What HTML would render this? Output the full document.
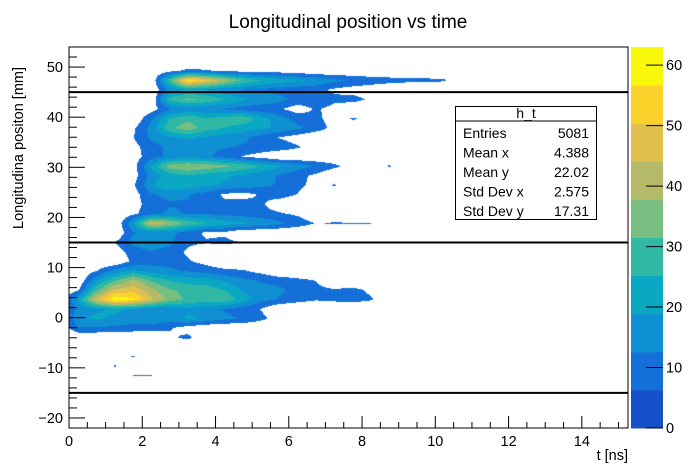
<!DOCTYPE html>
<html><head><meta charset="utf-8"><style>
html,body{margin:0;padding:0;background:#fff;}
#wrap{position:relative;width:698px;height:476px;overflow:hidden;font-family:"Liberation Sans",Arial,sans-serif;}
#plotcanvas{position:absolute;left:69px;top:47px;}
svg{position:absolute;left:0;top:0;}
</style></head><body>
<div id="wrap">
<canvas id="plotcanvas" width="559" height="381"></canvas>
<svg id="svg" width="698" height="476"></svg>
</div>
<script>
// ---- data ----
const xBins = [0.25,0.75,1.25,1.75,2.25,2.75,3.25,3.75,4.25,4.75,5.25,5.75,6.25,6.75,7.25,7.75,8.25,8.75,9.25,9.75,10.25,10.75];
const yBins = [49.25,47.35,45.45,43.55,41.65,39.75,37.85,35.95,34.05,32.15,30.25,28.35,26.45,24.55,22.65,20.75,18.85,16.95,15.05,13.15,11.25,9.35,7.45,5.55,3.65,1.75,-0.15,-2.05,-3.95,-5.85,-7.75,-9.65,-11.55];
const counts = [
[0,0,0,0,0,4,8,7,5,4,3,3,2,0,0,0,0,0,0,0,0,0],
[0,0,0,0,0,30,58,50,40,30,25,22,20,18,14,12,10,9,8,8,7,0],
[0,0,0,0,0,15,20,18,14,12,11,10,9,8,5,3,2,0,0,0,0,0],
[0,0,0,0,0,28,33,30,25,20,18,15,10,12,8,9,5,0,0,0,0,0],
[0,0,0,0,3,12,15,14,12,10,8,7,3,7,4,0,0,0,0,0,0,0],
[0,0,0,0,12,25,30,25,28,30,22,15,10,8,3,7,4,0,0,0,0,0],
[0,0,0,5,15,30,35,28,25,22,20,18,14,10,4,3,6,0,0,0,0,0],
[0,0,0,6,14,18,20,18,16,14,10,6,3,0,0,0,0,0,0,0,0,0],
[0,0,0,4,10,14,15,14,13,12,11,10,7,3,0,0,0,0,0,0,0,0],
[0,0,0,3,10,14,15,14,10,6,3,0,0,0,0,0,0,0,0,0,0,0],
[0,0,0,3,20,35,38,36,33,30,25,20,16,12,8,3,2,7,0,0,0,0],
[0,0,0,3,15,22,25,22,20,18,15,12,8,5,0,0,0,0,0,0,0,0],
[0,0,0,5,18,25,22,20,18,16,14,12,8,4,7,0,0,0,0,0,0,0],
[0,0,0,3,12,14,13,10,5,4,7,9,6,0,0,0,0,0,0,0,0,0],
[0,0,0,3,10,12,12,11,8,9,7,3,0,0,0,0,0,0,0,0,0,0],
[0,0,0,5,10,14,12,12,11,10,8,7,5,0,0,0,0,0,0,0,0,0],
[0,0,0,18,45,38,30,25,22,20,18,14,10,6,7,6.5,6.5,4,0,0,0,0],
[0,0,0,12,15,14,10,5,5,0,0,0,0,0,0,0,0,0,0,0,0,0],
[0,0,6,15,18,14,8,7,8,6,0,0,0,0,0,0,0,0,0,0,0,0],
[0,0,3,9,12,10,5,0,0,0,0,0,0,0,0,0,0,0,0,0,0,0],
[0,0,0,8,10,10,7,4,0,0,0,0,0,0,0,0,0,0,0,0,0,0],
[0,6,15,20,16,14,12,10,8,7,4,0,0,0,0,0,0,0,0,0,0,0],
[0,18,30,40,30,25,22,22,18,14,12,10,8,6,0,0,0,0,0,0,0,0],
[5,30,45,48,40,32,30,28,25,18,15,14,10,8,7,8,5,0,0,0,0,0],
[20,45,62,58,45,35,30,28,30,22,15,12,9,7,8,9,7,0,0,0,0,0],
[15,18,20,18,15,14,18,15,12,10,6,0,0,0,0,0,0,0,0,0,0,0],
[18,20,18,16,18,16,20,18,14,12,8,3,0,0,0,0,0,0,0,0,0,0],
[12,12,11,10,9,7,3,0,0,0,0,0,0,0,0,0,0,0,0,0,0,0],
[0,0,0,0,0,5,8,0,0,0,0,0,0,0,0,0,0,0,0,0,0,0],
[0,0,0,0,0,0,0,0,0,0,0,0,0,0,0,0,0,0,0,0,0,0],
[0,0,0,7,0,0,0,0,0,0,0,0,0,0,0,0,0,0,0,0,0,0],
[0,0,7,0,0,0,0,0,0,0,0,0,0,0,0,0,0,0,0,0,0,0],
[0,0,0,6.5,6.5,0,0,0,0,0,0,0,0,0,0,0,0,0,0,0,0,0]
];
const xTickLabels = [0,2,4,6,8,10,12,14];
const yTickLabels = [-20,-10,0,10,20,30,40,50];
const zTickLabels = [0,10,20,30,40,50,60];
const cutLines = [45,15,-15];
const statNames = ["Entries","Mean x","Mean y","Std Dev x","Std Dev y"];
const statValues = ["5081","4.388","22.02","2.575","17.31"];
const levelColors = ["#1650C8","#146FD8","#0E90D2","#0BA8C4","#30B8A4","#78BE80","#B4BA68","#E2C04E","#FDD22B","#F9F80A"];

// ---- geometry ----
const L=69,R=628,T=47,B=428, XMIN=0,XMAX=15.26,YMIN=-22,YMAX=54, ZMAX=63;
const sx=v=>L+(v-XMIN)/(XMAX-XMIN)*(R-L);
const sy=v=>B-(v-YMIN)/(YMAX-YMIN)*(B-T);
const PT=47,PB=428, sz=v=>PB-v/ZMAX*(PB-PT);
const NS="http://www.w3.org/2000/svg";
const svg=document.getElementById('svg');
function mk(tag,attrs,parent){const e=document.createElementNS(NS,tag);for(const k in attrs)e.setAttribute(k,attrs[k]);(parent||svg).appendChild(e);return e;}

// ---- contour raster ----
const cv=document.getElementById('plotcanvas');const ctx=cv.getContext('2d');
const img=ctx.createImageData(559,381);
const rgb=levelColors.map(c=>[parseInt(c.substr(1,2),16),parseInt(c.substr(3,2),16),parseInt(c.substr(5,2),16)]);
const dx=xBins[1]-xBins[0], dy=yBins[0]-yBins[1];
function val(i,j){if(j<0||j>=yBins.length||i<0||i>=xBins.length)return 0;return counts[j][i];}
for(let py=0;py<381;py++){
  const yv=YMAX-(py+0.5)/381*(YMAX-YMIN);
  const fj=(yBins[0]-yv)/dy, j0=Math.floor(fj), ty=fj-j0;
  for(let px=0;px<559;px++){
    const xv=XMIN+(px+0.5)/559*(XMAX-XMIN);
    const fi=(xv-xBins[0])/dx, i0=Math.floor(fi), tx=fi-i0;
    const v=(val(i0,j0)*(1-tx)+val(i0+1,j0)*tx)*(1-ty)+(val(i0,j0+1)*(1-tx)+val(i0+1,j0+1)*tx)*ty;
    const lev=Math.floor(v/(ZMAX/10));
    if(lev<1)continue;
    const c=rgb[Math.min(lev,9)];const k=(py*559+px)*4;
    img.data[k]=c[0];img.data[k+1]=c[1];img.data[k+2]=c[2];img.data[k+3]=255;
  }
}
ctx.putImageData(img,0,0);

// ---- title ----
const title=mk('text',{x:348,y:28,'text-anchor':'middle','font-size':19,fill:'#000'});
title.textContent="Longitudinal position vs time";



// ---- cut lines ----
cutLines.forEach(v=>{const l=mk('line',{x1:L,x2:R,y1:sy(v),y2:sy(v),stroke:'#000','stroke-width':2});

});

// ---- frame ----
const fr=mk('rect',{x:L,y:T,width:R-L,height:B-T,fill:'none',stroke:'#000','stroke-width':1});



// ---- x axis ----
for(let v=0;v<=XMAX+1e-6;v+=0.5){const maj=Math.abs(v/2-Math.round(v/2))<1e-6;
 const t=mk('line',{x1:sx(v),x2:sx(v),y1:B,y2:B-(maj?12:6),stroke:'#000','stroke-width':1});
 
 }
xTickLabels.forEach(v=>{const t=mk('text',{x:sx(v),y:446,'text-anchor':'middle','font-size':14.5});t.textContent=v;
 
 });
const xt=mk('text',{x:628,y:460,'text-anchor':'end','font-size':14.5});xt.textContent="t [ns]";



// ---- y axis ----
for(let v=-22;v<=YMAX+1e-6;v+=2){const maj=Math.abs(v/10-Math.round(v/10))<1e-6;
 const t=mk('line',{x1:L,x2:L+(maj?16:8),y1:sy(v),y2:sy(v),stroke:'#000','stroke-width':1});
 
 }
yTickLabels.forEach(v=>{const t=mk('text',{x:63,y:sy(v)+5,'text-anchor':'end','font-size':14.5});t.textContent=(v<0?'\u2212'+(-v):v);
 
 });
const yt=mk('text',{x:0,y:0,'text-anchor':'middle','font-size':14.5,transform:'translate(23,148) rotate(-90)'});
yt.textContent="Longitudina positon [mm]";



// ---- palette ----
levelColors.forEach((c,i)=>{const r=mk('rect',{x:631,y:sz((i+1)*ZMAX/10),width:32,height:sz(i*ZMAX/10)-sz((i+1)*ZMAX/10)+0.5,fill:c});
 
 });
zTickLabels.forEach(v=>{const t=mk('line',{x1:646,x2:663,y1:sz(v),y2:sz(v),stroke:'#000','stroke-width':1});
 
 
 const l=mk('text',{x:666,y:sz(v)+5,'font-size':14.5});l.textContent=v;
 
 });

// ---- stats box ----
const g=mk('g',{});


mk('rect',{x:455.5,y:106.5,width:141,height:113,fill:'#fff',stroke:'#000','stroke-width':1},g);
mk('line',{x1:455.5,x2:596.5,y1:121,y2:121,stroke:'#000','stroke-width':1},g);
const h=mk('text',{x:526,y:118,'text-anchor':'middle','font-size':14},g);h.textContent="h_t";
statNames.forEach((n,i)=>{const y=138+i*19.5;
 const a=mk('text',{x:463,y:y,'font-size':14},g);a.textContent=n;
 
 
 const b=mk('text',{x:589,y:y,'text-anchor':'end','font-size':14},g);b.textContent=statValues[i];
 
 });
</script>
</body></html>
